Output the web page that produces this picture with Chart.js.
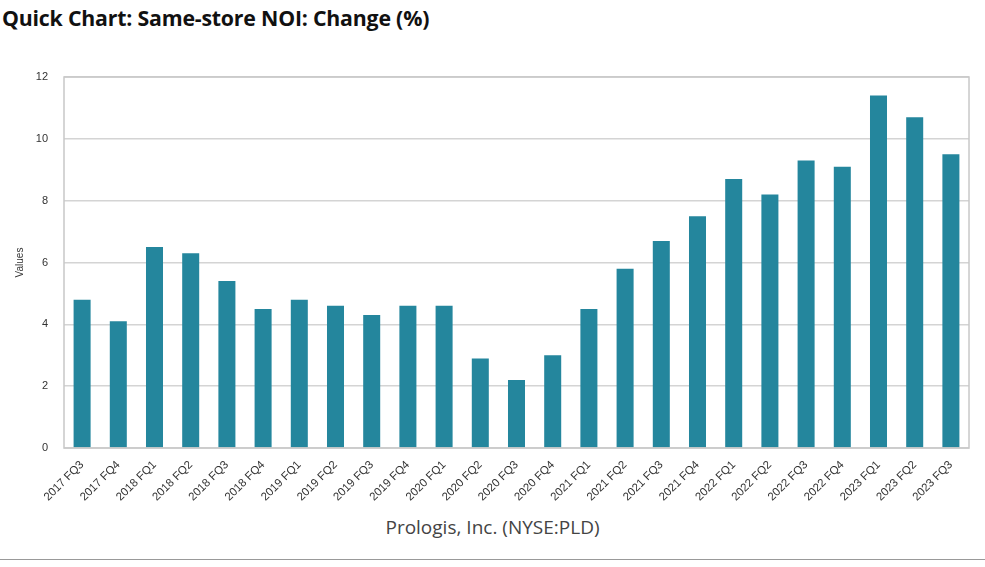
<!DOCTYPE html>
<html>
<head>
<meta charset="utf-8">
<script src="https://cdn.jsdelivr.net/npm/chart.js@4.4.0/dist/chart.umd.min.js"></script>
<style>
  html, body { margin: 0; padding: 0; background: #fff; }
  body { width: 985px; height: 567px; position: relative; overflow: hidden; font-family: "Open Sans", "Noto Sans", sans-serif; }
  #title { position: absolute; left: 2px; top: 3px; font-size: 21.3px; font-weight: 700; color: #111; letter-spacing: -0.2px; }
  #box { position: absolute; left: 0; top: 50px; width: 985px; height: 456px; }
  #footer { position: absolute; left: 0; width: 985px; top: 514px; text-align: center; font-size: 19px; color: #444; }
  #rule { position: absolute; left: 0; width: 985px; top: 559px; height: 0; border-top: 1.5px solid #999; }
</style>
</head>
<body>
<div id="title">Quick Chart: Same-store NOI: Change (%)</div>
<div id="box"><canvas id="chart"></canvas></div>
<div id="footer">Prologis, Inc. (NYSE:PLD)</div>
<div id="rule"></div>
<script>
// quarters on the x axis
const quarters = [
  '2017 FQ3', '2017 FQ4',
  '2018 FQ1', '2018 FQ2', '2018 FQ3', '2018 FQ4',
  '2019 FQ1', '2019 FQ2', '2019 FQ3', '2019 FQ4',
  '2020 FQ1', '2020 FQ2', '2020 FQ3', '2020 FQ4',
  '2021 FQ1', '2021 FQ2', '2021 FQ3', '2021 FQ4',
  '2022 FQ1', '2022 FQ2', '2022 FQ3', '2022 FQ4',
  '2023 FQ1', '2023 FQ2', '2023 FQ3'
];

// same-store NOI change, %
const noiChange = [
  4.8, 4.1,
  6.5, 6.3, 5.4, 4.5,
  4.8, 4.6, 4.3, 4.6,
  4.6, 2.9, 2.2, 3.0,
  4.5, 5.8, 6.7, 7.5,
  8.7, 8.2, 9.3, 9.1,
  11.4, 10.7, 9.5
];

const yTicks = [0, 2, 4, 6, 8, 10, 12];

// box around the whole plot area
const frame = {
  id: 'frame',
  afterDraw(chart) {
    const a = chart.chartArea;
    const ctx = chart.ctx;
    ctx.save();
    ctx.strokeStyle = '#c8c8c8';
    ctx.lineWidth = 1.5;
    ctx.strokeRect(a.left, a.top, a.right - a.left, a.bottom - a.top);
    ctx.restore();
  }
};

new Chart(document.getElementById('chart'), {
  type: 'bar',
  data: {
    labels: quarters,
    datasets: [{
      data: noiChange,
      backgroundColor: '#24869d',
      borderWidth: 0,
      barPercentage: 0.47,
      categoryPercentage: 1.0
    }]
  },
  options: {
    responsive: true,
    maintainAspectRatio: false,
    animation: false,
    layout: { padding: { top: 27, right: 16, left: 14, bottom: 0 } },
    plugins: {
      legend: { display: false },
      tooltip: { enabled: false }
    },
    scales: {
      x: {
        grid: { display: false },
        border: { display: false },
        // rotated labels may hang past the plot edge, as in the original
        afterFit(scale) {
          scale.paddingLeft = 0;
          scale.paddingRight = 0;
        },
        ticks: {
          color: '#333',
          font: { family: 'Liberation Sans, Arial, sans-serif', size: 11.5 },
          maxRotation: 45,
          minRotation: 45,
          autoSkip: false,
          padding: 2
        }
      },
      y: {
        min: 0,
        max: 12,
        afterBuildTicks(axis) {
          axis.ticks = yTicks.map(v => ({ value: v }));
        },
        afterFit(scale) {
          scale.width = 50;
        },
        grid: { color: '#d4d4d4', lineWidth: 1.5, drawTicks: false },
        border: { display: false },
        title: {
          display: true,
          text: 'Values',
          color: '#333',
          font: { family: 'Liberation Sans, Arial, sans-serif', size: 10 },
          padding: { top: 0, bottom: 0 }
        },
        ticks: {
          color: '#333',
          font: { family: 'Liberation Sans, Arial, sans-serif', size: 11 },
          padding: 16
        }
      }
    }
  },
  plugins: [frame]
});
</script>
</body>
</html>
